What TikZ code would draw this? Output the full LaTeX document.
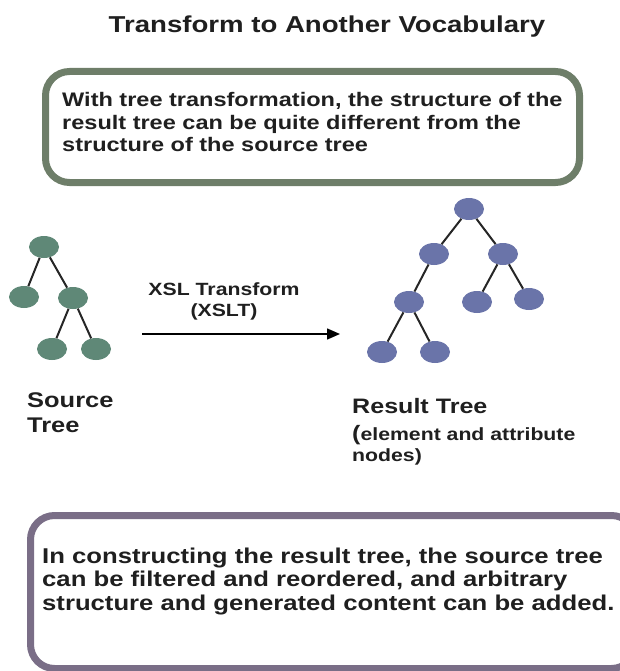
\documentclass[tikz,border=0pt]{standalone}
\usepackage{fontspec}
\setmainfont{Liberation Sans}[FakeStretch=1.2]
\usepackage{xcolor}
\usetikzlibrary{positioning, arrows.meta, shapes.geometric}

\definecolor{srcgreen}{HTML}{5F8877}
\definecolor{resblue}{HTML}{6A74A9}
\definecolor{boxgreen}{HTML}{6E7E69}
\definecolor{boxpurple}{HTML}{7A6E87}

\tikzset{
  srcnode/.style = {ellipse, fill=srcgreen, minimum width=30pt, minimum height=22pt, inner sep=0pt},
  resnode/.style = {ellipse, fill=resblue, minimum width=30pt, minimum height=22pt, inner sep=0pt},
  link/.style = {line width=2pt, draw=black!85},
  notebox/.style = {draw, line width=7pt, rounded corners=24pt, inner sep=0pt},
  label/.style = {font=\bfseries, align=left, inner sep=0pt, anchor=base west, text=black!88},
}

\begin{document}
\begin{tikzpicture} [x=1pt, y=-1pt, node distance = 50pt, on grid]
        \useasboundingbox (0,0) rectangle (619,671);

        \node (title) [label, anchor=base, font=\bfseries\fontsize{23}{26}\selectfont] at (327,33)
         {Transform to Another Vocabulary};

        % top note
        \node (note1) [notebox, draw=boxgreen, minimum width=534pt, minimum height=111pt] at (312.5,127) {};
        \node (note1text) [label, font=\bfseries\fontsize{19.6}{22.5}\selectfont] at (62,152)
         {With tree transformation, the structure of the\\result tree can be quite different from the\\structure of the source tree};

        % source tree
        \node (s1) [srcnode] at (44,247) {}; \node (s2) [srcnode, below left = 50pt and 20pt of s1] {};
        \node (s3) [srcnode, below right = 51pt and 29pt of s1] {}; \node (s4) [srcnode,
        below left = 51pt and 21pt of s3] {}; \node (s5) [srcnode, below right = 51pt and 23pt of s3] {};

        \draw [link] (s1) edge (s2) (s1) edge (s3) (s3) edge (s4) (s3) edge (s5);

        \node (srclabel) [label, font=\bfseries\fontsize{21.2}{25}\selectfont] at (27,432) {Source\\Tree};

        % transform arrow
        \coordinate (a0) at (142,334); \coordinate (a1) at (340,334);
        \draw [line width=1.5pt, -{Triangle[length=13pt, width=11pt]}] (a0) -- (a1);
        \node (xslt) [label, anchor=base, align=center, font=\bfseries\fontsize{17.7}{21}\selectfont] at (224,316)
         {XSL Transform\\(XSLT)};

        % result tree
        \node (r1) [resnode] at (469,209) {}; \node (r2) [resnode, below left = 45pt and 35pt of r1] {};
        \node (r3) [resnode, below right = 45pt and 34pt of r1] {}; \node (r4) [resnode,
        below left = 48pt and 25pt of r2] {}; \node (r5) [resnode, below left = 48pt and 26pt of r3] {};
        \node (r6) [resnode, below right = 45pt and 26pt of r3] {}; \node (r7) [resnode,
        below left = 50pt and 27pt of r4] {}; \node (r8) [resnode, below right = 50pt and 26pt of r4] {};

        \draw [link] (r1) edge (r2) (r1) edge (r3) (r2) edge (r4) (r3) edge (r5) (r3) edge (r6)
         (r4) edge (r7) (r4) edge (r8);

        \node (reslabel) [label, font=\bfseries\fontsize{20.9}{25}\selectfont] at (352,413) {Result Tree};
        \node (resnote) [label, font=\bfseries\fontsize{17.7}{21}\selectfont] at (352,461)
         {{\fontsize{20.9}{21}\selectfont(}element and attribute\\nodes)};

        % bottom note
        \node (note2) [notebox, draw=boxpurple, minimum width=605pt, minimum height=153pt] at (333,592) {};
        \node (note2text) [label, font=\bfseries\fontsize{21.4}{23.5}\selectfont] at (42,610)
         {In constructing the result tree, the source tree\\can be filtered and reordered, and arbitrary\\structure and generated content can be added.};

    \end{tikzpicture}
\end{document}
